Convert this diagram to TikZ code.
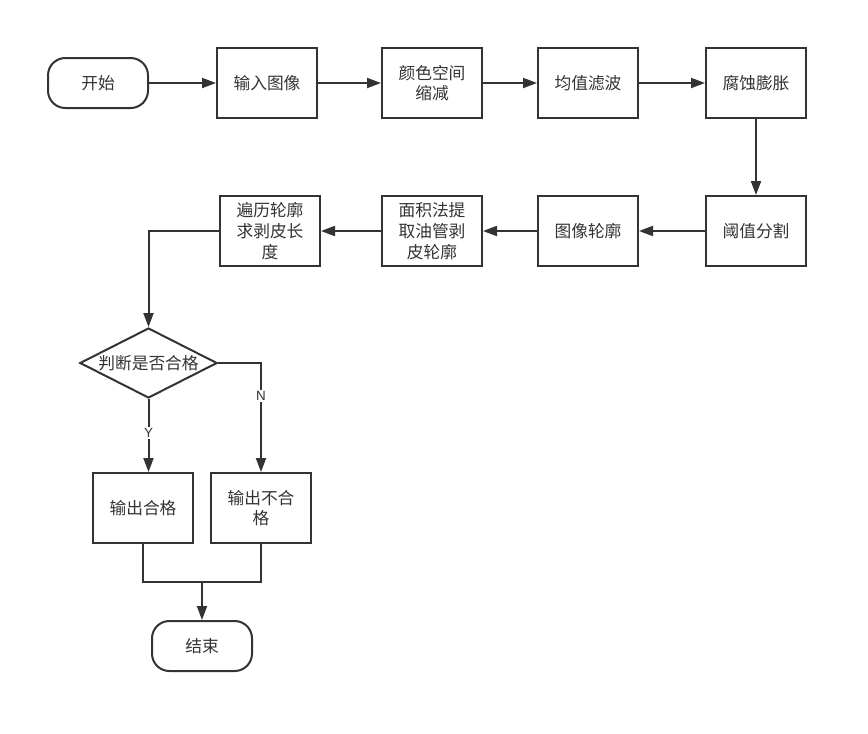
\documentclass[tikz,border=0pt]{standalone}
\usepackage{fontspec}
\setsansfont{Liberation Sans}
\newfontfamily\cjk{Noto Sans CJK SC}
\usetikzlibrary{arrows.meta,shapes.geometric}
\begin{document}
\begin{tikzpicture}[x=0.75pt,y=-0.75pt,
  every node/.style={font=\cjk\fontsize{12.5bp}{15.5bp}\selectfont,align=center,text=black!80},
  box/.style={draw=black!80,line width=1.5pt,minimum width=75pt,minimum height=52.5pt,inner sep=1pt},
  term/.style={draw=black!80,line width=1.5pt,rounded corners=13pt,minimum width=75pt,minimum height=37.5pt},
  judge/.style={draw=black!80,line width=1.5pt,diamond,aspect=1.96,minimum width=103pt,minimum height=52.5pt,inner sep=0pt},
  link/.style={draw=black!80,line width=1.5pt},
  flow/.style={link,-{Triangle[length=10.5pt,width=7.5pt]}},
  lbl/.style={font=\sffamily\fontsize{10bp}{12bp}\selectfont,fill=white,inner sep=1pt}]
\useasboundingbox (0,0) rectangle (868,733);
\node[term] (start) at (98,83) {开始};
\node[box] (input) at (267,83) {输入图像};
\node[box] (reduce) at (432,83) {颜色空间\\缩减};
\node[box] (blur) at (588,83) {均值滤波};
\node[box] (morph) at (756,83) {腐蚀膨胀};
\node[box] (thresh) at (756,231) {阈值分割};
\node[box] (contour) at (588,231) {图像轮廓};
\node[box] (area) at (432,231) {面积法提\\取油管剥\\皮轮廓};
\node[box] (length) at (270,231) {遍历轮廓\\求剥皮长\\度};
\node[judge] (check) at (148.5,363) {判断是否合格};
\node[box] (pass) at (143,508) {输出合格};
\node[box] (fail) at (261,508) {输出不合\\格};
\node[term] (stop) at (202,646) {结束};
\coordinate (join) at (202,582);
% first row
\draw[flow] (start) -- (input);
\draw[flow] (input) -- (reduce);
\draw[flow] (reduce) -- (blur);
\draw[flow] (blur) -- (morph);
\draw[flow] (morph) -- (thresh);
% second row, right to left
\draw[flow] (thresh) -- (contour);
\draw[flow] (contour) -- (area);
\draw[flow] (area) -- (length);
\draw[flow] (length.west) -| (check.north);
% decision
\draw[flow] (check.south) -- node[lbl,pos=0.47] {Y} (check.south |- pass.north);
\draw[flow] (check.east) -| node[lbl,pos=0.65] {N} (fail.north);
\draw[link] (pass.south) |- (join) -| (fail.south);
\draw[flow] (join) -- (stop);
\end{tikzpicture}
\end{document}
